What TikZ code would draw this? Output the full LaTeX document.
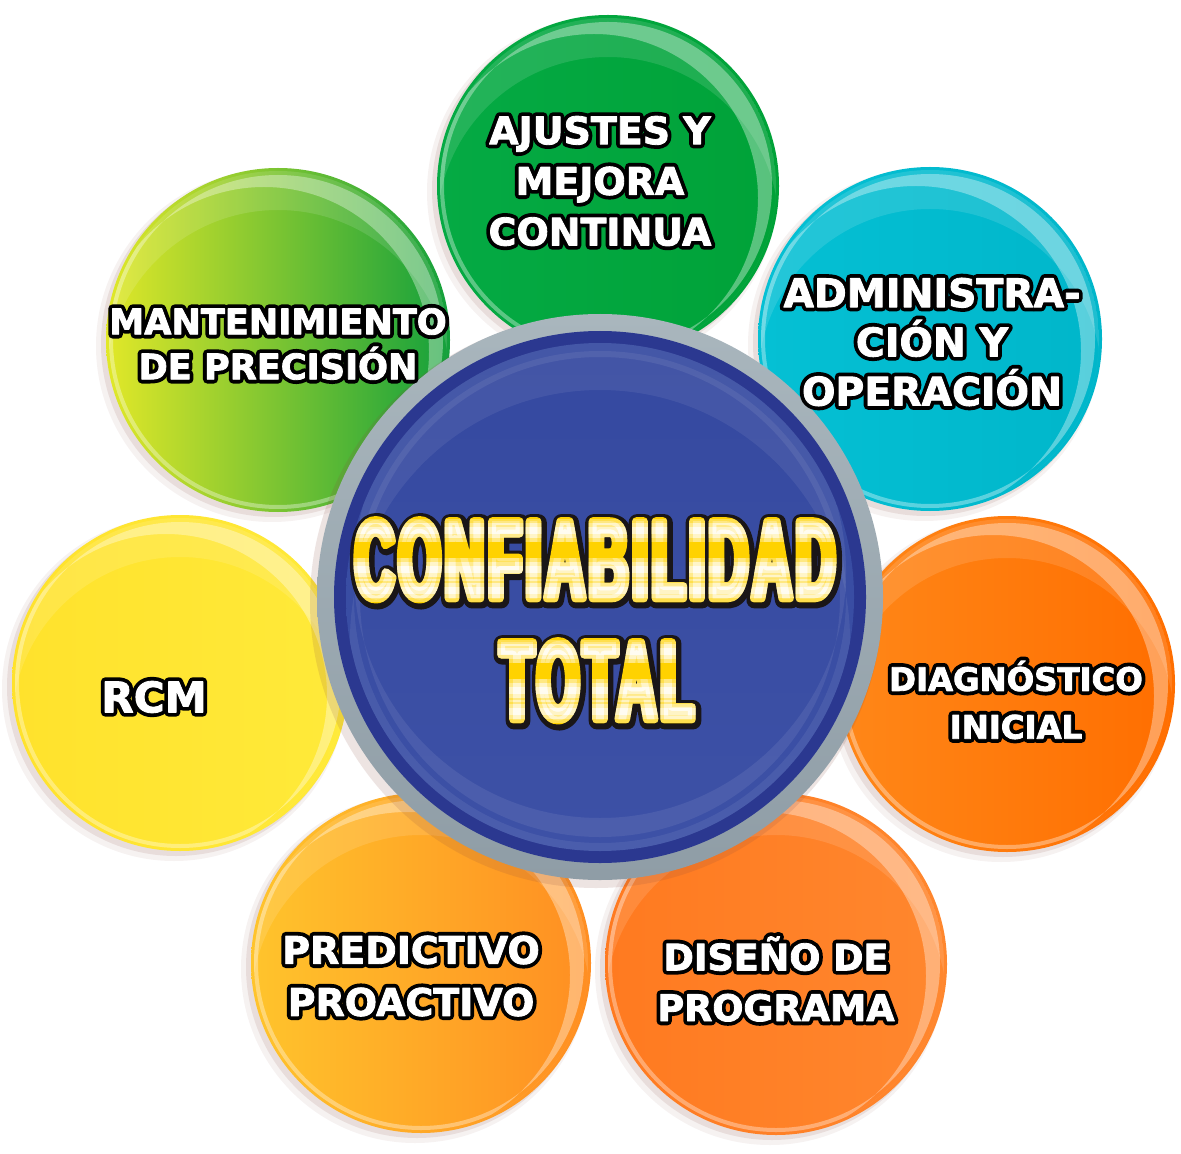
\documentclass[tikz,border=0pt]{standalone}
\usepackage{fontspec}
\setmainfont{DejaVu Sans}
\newfontfamily\titlefont[FakeStretch=0.48,LetterSpace=4]{Liberation Sans}
\usetikzlibrary{calc}

\definecolor{ajL}{HTML}{05AA44}  \definecolor{ajR}{HTML}{00A238}
\definecolor{adL}{HTML}{05C0D4}  \definecolor{adR}{HTML}{00B6CA}
\definecolor{diL}{HTML}{FF8718}  \definecolor{diR}{HTML}{FF6E00}
\definecolor{dsL}{HTML}{FF7A20}  \definecolor{dsR}{HTML}{FF872E}
\definecolor{prL}{HTML}{FFC42C}  \definecolor{prR}{HTML}{FF8E22}
\definecolor{rcL}{HTML}{FFE22C}  \definecolor{rcR}{HTML}{FFEA3A}
\definecolor{mtL}{HTML}{E2E828}  \definecolor{mtR}{HTML}{13A03C}
\definecolor{ringtop}{HTML}{A9B6BD}
\definecolor{ringbot}{HTML}{8F9DA6}
\definecolor{rimblue}{HTML}{2B3890}
\definecolor{disctop}{HTML}{3549A0}
\definecolor{discbot}{HTML}{3D51A6}
\definecolor{titlegold}{HTML}{FFD200}
\definecolor{titleedge}{HTML}{1A1618}
\definecolor{halo}{HTML}{8A4A40}

\tikzset{
  bubbletext/.style={font=\bfseries\fontsize{27}{36}\selectfont,
    text=white, align=center, inner sep=0pt},
  titletext/.style={font=\titlefont\bfseries\fontsize{80}{80}\selectfont,
    text=titlegold, inner sep=0pt, anchor=base},
}

% glyphs filled and stroked with a pen of #1 bp
\newcommand\edgeon[1]{\special{pdf:literal direct 2 Tr 1 j #1 w}}

% text with a dark edge: a stroked copy below, the text above
\newcommand\outlinednode[5][black]{%
  \node[#4, text=#1] (#2-edge) at (#3) {\edgeon{6}#5};
  \node[#4] (#2) at (#3) {\edgeon{0.6}#5};
}

\begin{document}
\begin{tikzpicture}[x=0.025cm, y=-0.025cm, line join=round]
\useasboundingbox (0,0) rectangle (1181,1154);
\fill[white] (0,0) rectangle (1181,1154);

% outer bubbles
\foreach \cx/\cy/\r/\ca/\cb in {608/186/171/ajL/ajR, 930/339/172/adL/adR,
    1007/684/168/diL/diR, 776/964/171/dsL/dsR, 421/963/170/prL/prR,
    180/683/168/rcL/rcR, 278/340/172/mtL/mtR}{
  \fill[halo, opacity=.07] (\cx-6,\cy+6) circle (\r+4);
  \fill[halo, opacity=.12] (\cx-4,\cy+4) circle (\r+1);
  \shade[left color=\ca, right color=\cb] (\cx,\cy) circle (\r);
  \begin{scope}
    \clip (\cx,\cy) circle (\r-3);
    \fill[white, opacity=.12, even odd rule] (\cx,\cy) circle (\r-3)
      (\cx,\cy+42) circle (\r);
    \fill[white, opacity=.35, even odd rule] (\cx,\cy) circle (\r-7)
      (\cx-14,\cy+12) circle (\r-7);
  \end{scope}
}

% central disc
\fill[halo, opacity=.15] (596,602) circle (286);
\shade[top color=ringtop, bottom color=ringbot] (600,597) circle (283);
\fill[rimblue] (600,597) circle (266);
\shade[top color=disctop, bottom color=discbot] (600,597) circle (254);
\begin{scope}
  \clip (600,597) circle (254);
  \fill[white, opacity=.07, even odd rule] (600,597) circle (246)
    (600,640) circle (250);
  \fill[white, opacity=.08, even odd rule] (600,597) circle (240)
    (600,572) circle (246);
\end{scope}

% labels
\outlinednode{ajustes}{600,181}{bubbletext}{AJUSTES Y\\MEJORA\\CONTINUA}
\outlinednode{mant}{278,344}{bubbletext, font=\bfseries\fontsize{25}{32}\selectfont}{MANTENIMIENTO\\DE PRECISIÓN}
\outlinednode{admin}{932,342}{bubbletext, font=\bfseries\fontsize{28}{35}\selectfont}{ADMINISTRA-\\CIÓN Y\\OPERACIÓN}
\outlinednode{rcm}{154,697}{bubbletext, font=\bfseries\fontsize{30}{36}\selectfont}{RCM}
\outlinednode{diag}{1016,700}{bubbletext, font=\bfseries\fontsize{23}{34}\selectfont}{DIAGNÓSTICO\\INICIAL}
\outlinednode{pred}{411,976}{bubbletext, font=\bfseries\fontsize{27}{37}\selectfont}{PREDICTIVO\\PROACTIVO}
\outlinednode{dis}{776,979}{bubbletext, font=\bfseries\fontsize{26}{36}\selectfont}{DISEÑO DE\\PROGRAMA}

% title: dark edge, gold letters, white metallic stripes
\node[titletext, text=titleedge] (conf-edge) at (596,600) {\edgeon{12}CONFIABILIDAD};
\node[titletext, text=titleedge] (total-edge) at (598,721) {\edgeon{12}TOTAL};
\node[titletext] (conf) at (595,598.5) {\edgeon{5.5}CONFIABILIDAD};
\node[titletext] (total) at (597,719.5) {\edgeon{5.5}TOTAL};
\foreach \c in {530,569,590,651,690,711}
  \foreach \w/\op [count=\k] in {11/.3, 7/.35, 3/.5}{
    \begin{scope}
      \clip (330,\c-\w) rectangle (870,\c+\w);
      \node[titletext, text=white, opacity=\op] (conf-s\c-\k) at (conf.base) {\edgeon{5.5}CONFIABILIDAD};
      \node[titletext, text=white, opacity=\op] (total-s\c-\k) at (total.base) {\edgeon{5.5}TOTAL};
    \end{scope}
  }
\end{tikzpicture}
\end{document}
